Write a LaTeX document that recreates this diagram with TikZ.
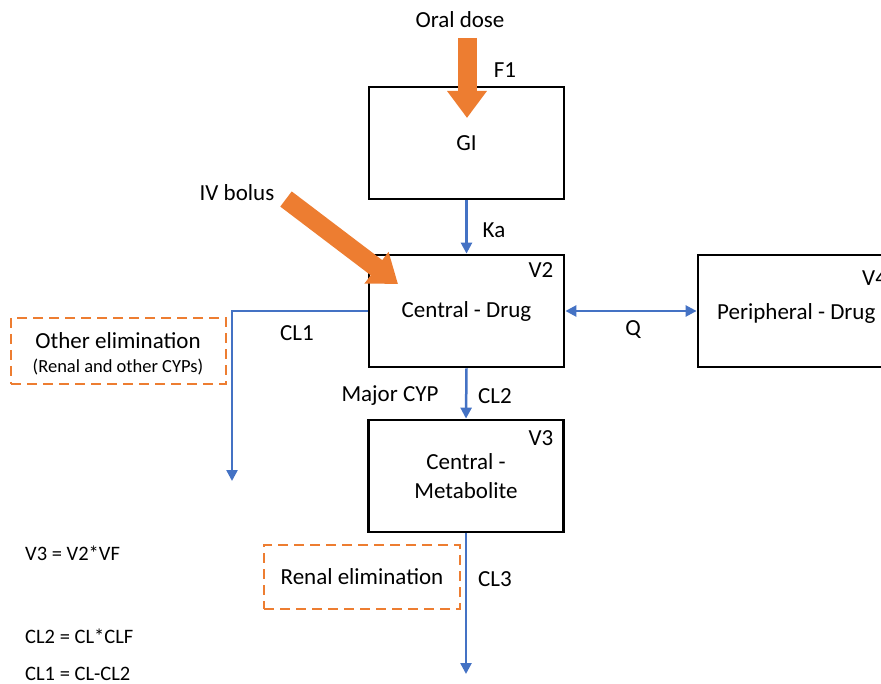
\documentclass[tikz,border=0pt]{standalone}
\usepackage{fontspec}
\setmainfont{Carlito}
\usetikzlibrary{arrows.meta}
\definecolor{pkblue}{HTML}{4472C4}
\definecolor{pkorange}{HTML}{ED7D31}
\tikzset{
  comp/.style={draw=black, line width=2.8pt, minimum width=195pt, minimum height=112pt, inner sep=0pt, font=\fontsize{23}{29}\selectfont, align=center},
  lbl/.style={inner sep=0pt, font=\fontsize{23}{29}\selectfont},
  eqn/.style={inner sep=0pt, anchor=west, font=\fontsize{20.5}{24}\selectfont},
  flow/.style={draw=pkblue, line width=2.5pt, -{Triangle[length=11pt,width=11pt]}},
  dose/.style={draw=pkorange, line width=19pt, -{Triangle[length=27pt,width=38pt]}},
  elim/.style={draw=pkorange, dashed, dash pattern=on 10pt off 6pt, line width=2.6pt, inner sep=0pt, align=center}
}
\begin{document}
\begin{tikzpicture}[x=1pt,y=-1pt]
\useasboundingbox (0,0) rectangle (881,684);
\clip (0,0) rectangle (881,684);
% compartments
\node[comp] (gi) at (466.5,143) {GI};
\node[comp] (central) at (466.5,311) {Central - Drug};
\node[comp] (periph) at (795.5,311) {};
\node[lbl, anchor=west] (periphtxt) at (717,313) {Peripheral - Drug};
\node[comp] (metab) at (466,476) {Central -\\Metabolite};
% volume labels
\node[lbl] (v2) at (541,270) {V2};
\node[lbl] (v3) at (541,438) {V3};
\node[lbl, anchor=west] (v4) at (862,278) {V4};
% elimination boxes
\node[elim, minimum width=215pt, minimum height=66pt] (other) at (118.5,351) {};
\node[lbl] (othert1) at (118,341) {Other elimination};
\node[inner sep=0pt, font=\fontsize{18.5}{22}\selectfont] (othert2) at (118,367) {(Renal and other CYPs)};
\node[elim, minimum width=196pt, minimum height=64pt, font=\fontsize{23}{29}\selectfont] (renal) at (362,577) {Renal elimination};
% dose labels
\node[lbl] (oral) at (460,20) {Oral dose};
\node[lbl] (f1) at (505,70) {F1};
\node[lbl] (iv) at (237,193) {IV bolus};
% dose arrows
\coordinate (oralstart) at (467,38);
\coordinate (oraltip) at (467,118);
\draw[dose] (oralstart) -- (oraltip);
\coordinate (ivstart) at (286,199);
\coordinate (ivtip) at (398,284);
\draw[dose] (ivstart) -- (ivtip);
% flows
\draw[flow] (gi.south) -- (central.north);
\node[lbl] (ka) at (494,230) {Ka};
\coordinate (cl1end) at (232,481);
\draw[flow] (central.west) -| (cl1end);
\node[lbl] (cl1) at (297,333) {CL1};
\draw[flow, {Triangle[length=11pt,width=11pt]}-{Triangle[length=11pt,width=11pt]}] (central.east) -- (periph.west);
\node[lbl] (q) at (633,330) {Q};
\draw[flow] (central.south) -- (metab.north);
\node[lbl] (majcyp) at (390,396) {Major CYP};
\node[lbl] (cl2) at (495,396) {CL2};
\coordinate (cl3end) at (466,674);
\draw[flow] (metab.south) -- (cl3end);
\node[lbl] (cl3) at (495,579) {CL3};
% equations
\node[eqn] (eq1) at (25,553) {V3 = V2*VF};
\node[eqn] (eq2) at (25,636) {CL2 = CL*CLF};
\node[eqn] (eq3) at (25,674) {CL1 = CL-CL2};
\end{tikzpicture}
\end{document}
